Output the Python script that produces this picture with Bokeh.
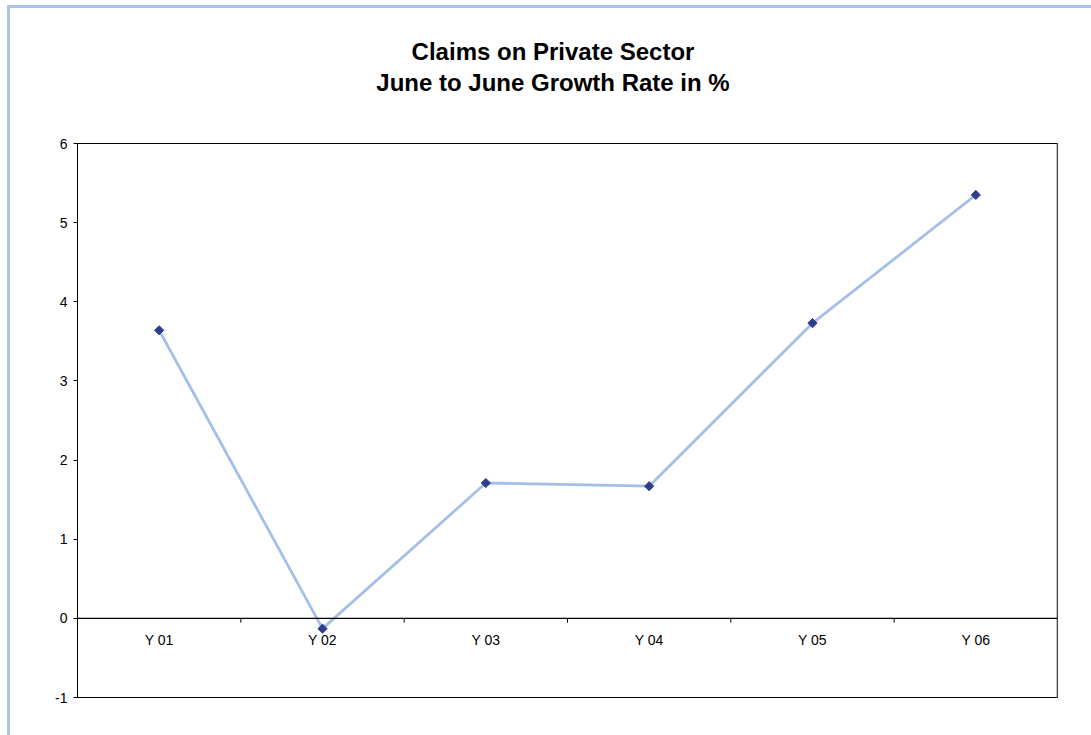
import math
from bokeh.plotting import figure
from bokeh.layouts import column
from bokeh.models import Range1d, FixedTicker, Span, ColumnDataSource, Div
from bokeh.core.properties import value
from bokeh.embed import file_html
from bokeh.resources import INLINE

categories = ["Y 01", "Y 02", "Y 03", "Y 04", "Y 05", "Y 06"]
growth = [3.64, -0.13, 1.71, 1.67, 3.73, 5.35]
y_ticks = [-1, 0, 1, 2, 3, 4, 5, 6]
title_lines = ["Claims on Private Sector", "June to June Growth Rate in %"]

FONT = "Liberation Sans"
FRAME_BLUE = "#a8c4ec"

title_html = (
    '<div style="margin-left:5px; width:1076px; padding-top:28px; text-align:center; '
    'font-family:\'Liberation Sans\', Arial, sans-serif; font-size:24px; font-weight:bold; '
    'line-height:31px; color:black; white-space:nowrap;">'
    + "<br>".join(title_lines) + "</div>"
)
title_div = Div(text=title_html, width=1081, height=125, margin=0)

p = figure(width=1081, height=602, output_backend="svg", toolbar_location=None,
           x_range=Range1d(0, len(categories)), y_range=Range1d(-1, 6),
           min_border_left=67, min_border_right=34, min_border_top=10, min_border_bottom=38)
p.margin = 0

p.background_fill_color = "white"
p.border_fill_color = "white"
p.outline_line_color = "black"
p.outline_line_width = 1
p.xgrid.visible = False
p.ygrid.visible = False
p.xaxis.visible = False

ya = p.yaxis[0]
ya.ticker = FixedTicker(ticks=y_ticks)
ya.major_label_overrides = {t: str(t) for t in y_ticks}
ya.major_tick_out = 4
ya.major_tick_in = 0
ya.minor_tick_line_color = None
ya.axis_line_color = "black"
ya.major_tick_line_color = "black"
ya.major_label_text_font = FONT
ya.major_label_text_font_size = "14px"
ya.major_label_text_color = "black"
ya.major_label_standoff = 6

xs = [i + 0.5 for i in range(len(categories))]
src = ColumnDataSource(dict(x=xs, y=growth, cat=categories))

# right gray edge
p.add_layout(Span(location=len(categories), dimension="height", line_color="#878787", line_width=2))
# zero line
p.add_layout(Span(location=0, dimension="width", line_color="black", line_width=1.2))

# category separator ticks on zero line
bx = list(range(1, len(categories)))
p.segment(x0=bx, x1=bx, y0=[0] * len(bx), y1=[-0.055] * len(bx), line_color="black", line_width=1)

p.line("x", "y", source=src, line_color="#a4c0e9", line_width=2.8)
p.scatter("x", "y", source=src, marker="square", angle=math.pi / 4, size=6.5,
          fill_color="#2e3e8c", line_color="#2e3e8c")

p.text("x", 0, text="cat", source=src, text_font=value(FONT), text_font_size="14px",
       text_align="center", text_baseline="top", y_offset=14, text_color="black")

layout = column(title_div, p, spacing=0)
layout.margin = (5, 0, 0, 7)
layout.styles = {"border-left": "3px solid " + FRAME_BLUE, "border-top": "3px solid " + FRAME_BLUE,
                 "background-color": "white"}

open("out.html", "w").write(file_html(layout, INLINE))
